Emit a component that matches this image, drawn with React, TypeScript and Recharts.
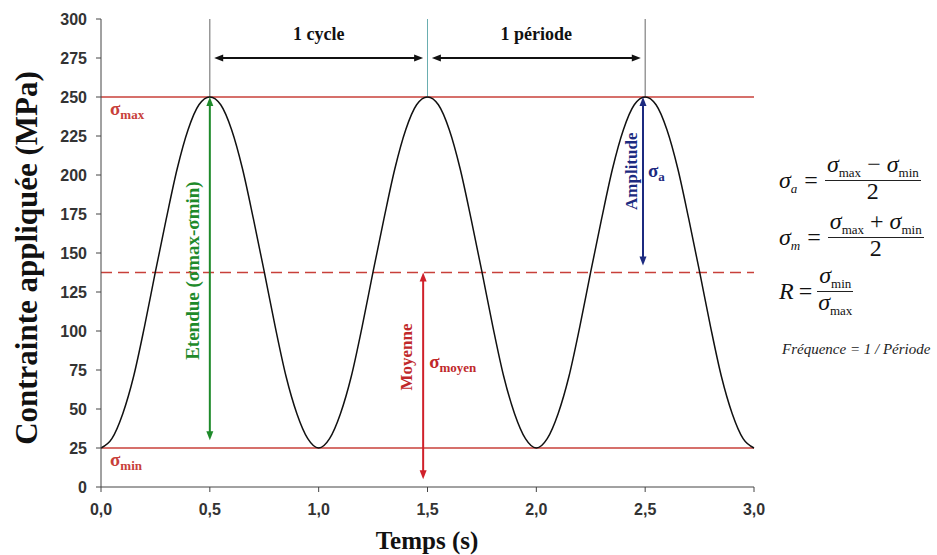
import React from 'react';
import { LineChart, Line, XAxis, YAxis, ReferenceLine } from 'recharts';

// temps (s) et contrainte (MPa)
const temps = [
  0, 0.05, 0.1, 0.15, 0.2, 0.25, 0.3, 0.35, 0.4, 0.45,
  0.5, 0.55, 0.6, 0.65, 0.7, 0.75, 0.8, 0.85, 0.9, 0.95,
  1, 1.05, 1.1, 1.15, 1.2, 1.25, 1.3, 1.35, 1.4, 1.45,
  1.5, 1.55, 1.6, 1.65, 1.7, 1.75, 1.8, 1.85, 1.9, 1.95,
  2, 2.05, 2.1, 2.15, 2.2, 2.25, 2.3, 2.35, 2.4, 2.45,
  2.5, 2.55, 2.6, 2.65, 2.7, 2.75, 2.8, 2.85, 2.9, 2.95,
  3,
];
const contrainte = [
  25, 31, 47, 71, 103, 138, 172, 204, 229, 245,
  250, 245, 229, 204, 172, 138, 103, 71, 47, 31,
  25, 31, 47, 71, 103, 138, 172, 204, 229, 245,
  250, 245, 229, 204, 172, 138, 103, 71, 47, 31,
  25, 31, 47, 71, 103, 138, 172, 204, 229, 245,
  250, 245, 229, 204, 172, 138, 103, 71, 47, 31,
  25,
];

const xTicks = [0, 0.5, 1, 1.5, 2, 2.5, 3];
const xMinorTicks = [
  0, 0.1, 0.2, 0.3, 0.4, 0.5, 0.6, 0.7, 0.8, 0.9, 1, 1.1, 1.2, 1.3, 1.4, 1.5,
  1.6, 1.7, 1.8, 1.9, 2, 2.1, 2.2, 2.3, 2.4, 2.5, 2.6, 2.7, 2.8, 2.9, 3,
];
const yTicks = [0, 25, 50, 75, 100, 125, 150, 175, 200, 225, 250, 275, 300];
const yMinorTicks = [
  0, 5, 10, 15, 20, 25, 30, 35, 40, 45, 50, 55, 60, 65, 70, 75, 80, 85, 90, 95,
  100, 105, 110, 115, 120, 125, 130, 135, 140, 145, 150, 155, 160, 165, 170, 175,
  180, 185, 190, 195, 200, 205, 210, 215, 220, 225, 230, 235, 240, 245, 250, 255,
  260, 265, 270, 275, 280, 285, 290, 295, 300,
];

const sigmaMax = 250;
const sigmaMin = 25;
const sigmaMoyen = 137.5;
const picTemps = [0.5, 1.5, 2.5];

const data = temps.map((t, i) => ({ t, s: contrainte[i] }));

const SERIF = '"Liberation Serif", "Times New Roman", serif';
const SANS = '"Liberation Sans", Arial, sans-serif';
const RED = '#c8403a';
const AXIS = '#444';

type Seg = { x1: number; y1: number; x2: number; y2: number };

const head = (xa: number, ya: number, xb: number, yb: number, L: number, W: number) => {
  const dx = xb - xa;
  const dy = yb - ya;
  const len = Math.hypot(dx, dy) || 1;
  const ux = dx / len;
  const uy = dy / len;
  const bx = xb - ux * L;
  const by = yb - uy * L;
  return `${xb},${yb} ${bx - uy * W},${by + ux * W} ${bx + uy * W},${by - ux * W}`;
};

const makeArrow =
  (color: string, width: number, extra?: (s: Seg) => React.ReactNode) => (props: any) => {
    const { x1, y1, x2, y2 } = props;
    const len = Math.hypot(x2 - x1, y2 - y1) || 1;
    const ux = (x2 - x1) / len;
    const uy = (y2 - y1) / len;
    return (
      <g>
        <line
          x1={x1 + ux * 6}
          y1={y1 + uy * 6}
          x2={x2 - ux * 6}
          y2={y2 - uy * 6}
          stroke={color}
          strokeWidth={width}
        />
        <polygon points={head(x1, y1, x2, y2, 9, 3.5)} fill={color} />
        <polygon points={head(x2, y2, x1, y1, 9, 3.5)} fill={color} />
        {extra && extra({ x1, y1, x2, y2 })}
      </g>
    );
  };

const makeLevel = (extra?: (s: Seg) => React.ReactNode, dash?: string) => (props: any) => {
  const { x1, y1, x2, y2 } = props;
  return (
    <g>
      <line x1={x1} y1={y1} x2={x2} y2={y2} stroke={RED} strokeWidth={1.5} strokeDasharray={dash} />
      {extra && extra({ x1, y1, x2, y2 })}
    </g>
  );
};

const sigmaText = (x: number, y: number, sub: string, color: string) => (
  <text x={x} y={y} fill={color} fontFamily={SERIF} fontWeight="bold" fontSize={19}>
    σ
    <tspan fontSize={13} dy={4}>
      {sub}
    </tspan>
  </text>
);

const rotText = (x: number, y: number, txt: string, color: string, size: number) => (
  <text
    x={x}
    y={y}
    transform={`rotate(-90, ${x}, ${y})`}
    textAnchor="middle"
    dominantBaseline="central"
    fill={color}
    fontFamily={SERIF}
    fontWeight="bold"
    fontSize={size}
  >
    {txt}
  </text>
);

const topLabel = (txt: string) => (s: Seg) => (
  <text
    x={(s.x1 + s.x2) / 2}
    y={s.y1 - 18}
    textAnchor="middle"
    fill="#111"
    fontFamily={SERIF}
    fontWeight="bold"
    fontSize={18}
  >
    {txt}
  </text>
);

const Frac = ({ num, den }: { num: React.ReactNode; den: React.ReactNode }) => (
  <span style={{ display: 'inline-flex', flexDirection: 'column', alignItems: 'center' }}>
    <span style={{ padding: '0 2px 6px', lineHeight: '20px', height: 20 }}>{num}</span>
    <span style={{ borderTop: '1px solid #222', alignSelf: 'stretch' }} />
    <span style={{ lineHeight: '20px', height: 20, paddingBottom: 6 }}>{den}</span>
  </span>
);

const Sig = ({ sub, italicSub }: { sub: string; italicSub?: boolean }) => (
  <span>
    <i>σ</i>
    <span
      style={{
        fontSize: 13,
        fontStyle: italicSub ? 'italic' : 'normal',
        position: 'relative',
        top: 5,
      }}
    >
      {sub}
    </span>
  </span>
);

const formulaRow: React.CSSProperties = {
  position: 'absolute',
  left: 779,
  fontFamily: SERIF,
  fontSize: 24,
  color: '#111',
  display: 'flex',
  alignItems: 'center',
  whiteSpace: 'nowrap',
};

export default function App() {
  return (
    <div style={{ position: 'absolute', left: 0, top: 0, width: 937, height: 555, background: '#fff' }}>
      <LineChart width={937} height={555} data={data} margin={{ top: 19, right: 183, bottom: 28, left: 41 }}>
        <XAxis
          dataKey="t"
          type="number"
          domain={[0, 3]}
          ticks={xTicks}
          tickFormatter={(v: number) => v.toFixed(1).replace('.', ',')}
          tickSize={5}
          tickMargin={12}
          height={40}
          stroke={AXIS}
          tick={{ fill: '#333', fontFamily: SANS, fontWeight: 'bold', fontSize: 16 }}
        />
        <XAxis
          xAxisId="minor"
          type="number"
          domain={[0, 3]}
          ticks={xMinorTicks}
          mirror
          tick={false}
          tickSize={4}
          axisLine={false}
          stroke={AXIS}
        />
        <YAxis
          type="number"
          domain={[0, 300]}
          ticks={yTicks}
          tickSize={5}
          tickMargin={9}
          width={60}
          stroke={AXIS}
          tick={{ fill: '#333', fontFamily: SANS, fontWeight: 'bold', fontSize: 16 }}
        />
        <YAxis
          yAxisId="minor"
          type="number"
          domain={[0, 300]}
          ticks={yMinorTicks}
          mirror
          tick={false}
          tickSize={4}
          axisLine={false}
          stroke={AXIS}
        />

        {/* niveaux σmax, σmin et moyenne */}
        <ReferenceLine y={sigmaMax} shape={makeLevel((s) => sigmaText(s.x1 + 9, s.y1 + 18, 'max', RED))} />
        <ReferenceLine y={sigmaMin} shape={makeLevel((s) => sigmaText(s.x1 + 9, s.y1 + 18, 'min', RED))} />
        <ReferenceLine y={sigmaMoyen} shape={makeLevel(undefined, '11 6')} />

        {/* repères verticaux aux pics */}
        {picTemps.map((p, i) => (
          <ReferenceLine
            key={p}
            segment={[
              { x: p, y: 300 },
              { x: p, y: sigmaMax },
            ]}
            stroke={i === 1 ? '#6aaeb0' : '#666'}
            strokeWidth={1}
          />
        ))}

        <Line
          dataKey="s"
          type="monotone"
          stroke="#111"
          strokeWidth={1.5}
          dot={false}
          isAnimationActive={false}
        />

        {/* 1 cycle / 1 période */}
        <ReferenceLine
          segment={[
            { x: 0.52, y: 275 },
            { x: 1.48, y: 275 },
          ]}
          shape={makeArrow('#111', 2, topLabel('1 cycle'))}
        />
        <ReferenceLine
          segment={[
            { x: 1.52, y: 275 },
            { x: 2.48, y: 275 },
          ]}
          shape={makeArrow('#111', 2, topLabel('1 période'))}
        />

        {/* étendue */}
        <ReferenceLine
          segment={[
            { x: 0.5, y: sigmaMax },
            { x: 0.5, y: 30 },
          ]}
          shape={makeArrow('#1e8a2a', 2, (s) =>
            rotText(s.x1 - 17, (s.y1 + s.y2) / 2 + 2, 'Etendue (σmax-σmin)', '#1e8a2a', 19)
          )}
        />

        {/* moyenne */}
        <ReferenceLine
          segment={[
            { x: 1.48, y: sigmaMoyen },
            { x: 1.48, y: 5 },
          ]}
          shape={makeArrow('#d0202a', 2, (s) => (
            <g>
              {rotText(s.x1 - 17, 357, 'Moyenne', '#c0282a', 17)}
              {sigmaText(s.x1 + 6, 368, 'moyen', '#c0282a')}
            </g>
          ))}
        />

        {/* amplitude */}
        <ReferenceLine
          segment={[
            { x: 2.49, y: sigmaMax },
            { x: 2.49, y: 142 },
          ]}
          shape={makeArrow('#1c2a80', 2, (s) => (
            <g>
              {rotText(s.x1 - 11, (s.y1 + s.y2) / 2 - 10, 'Amplitude', '#1c2a80', 17)}
              {sigmaText(s.x1 + 5, (s.y1 + s.y2) / 2 - 4, 'a', '#1c2a80')}
            </g>
          ))}
        />
      </LineChart>

      {/* titres des axes */}
      <div
        style={{
          position: 'absolute',
          left: 27,
          top: 258,
          transform: 'translate(-50%, -50%) rotate(-90deg)',
          fontFamily: SERIF,
          fontWeight: 'bold',
          fontSize: 31,
          whiteSpace: 'nowrap',
          color: '#111',
        }}
      >
        Contrainte appliquée (MPa)
      </div>
      <div
        style={{
          position: 'absolute',
          left: 427,
          top: 541,
          transform: 'translate(-50%, -50%)',
          fontFamily: SERIF,
          fontWeight: 'bold',
          fontSize: 25,
          whiteSpace: 'nowrap',
          color: '#111',
        }}
      >
        Temps (s)
      </div>

      {/* formules */}
      <div style={{ ...formulaRow, top: 154 }}>
        <Sig sub="a" italicSub />
        <span style={{ margin: '0 7px' }}>=</span>
        <Frac
          num={
            <>
              <Sig sub="max" /> − <Sig sub="min" />
            </>
          }
          den="2"
        />
      </div>
      <div style={{ ...formulaRow, top: 211 }}>
        <Sig sub="m" italicSub />
        <span style={{ margin: '0 7px' }}>=</span>
        <Frac
          num={
            <>
              <Sig sub="max" /> + <Sig sub="min" />
            </>
          }
          den="2"
        />
      </div>
      <div style={{ ...formulaRow, top: 265 }}>
        <i>R</i>
        <span style={{ margin: '0 5px' }}>=</span>
        <Frac num={<Sig sub="min" />} den={<Sig sub="max" />} />
      </div>
      <div
        style={{
          position: 'absolute',
          left: 782,
          top: 341,
          fontFamily: SERIF,
          fontStyle: 'italic',
          fontSize: 15,
          color: '#222',
          whiteSpace: 'nowrap',
        }}
      >
        Fréquence = 1 / Période
      </div>
    </div>
  );
}
